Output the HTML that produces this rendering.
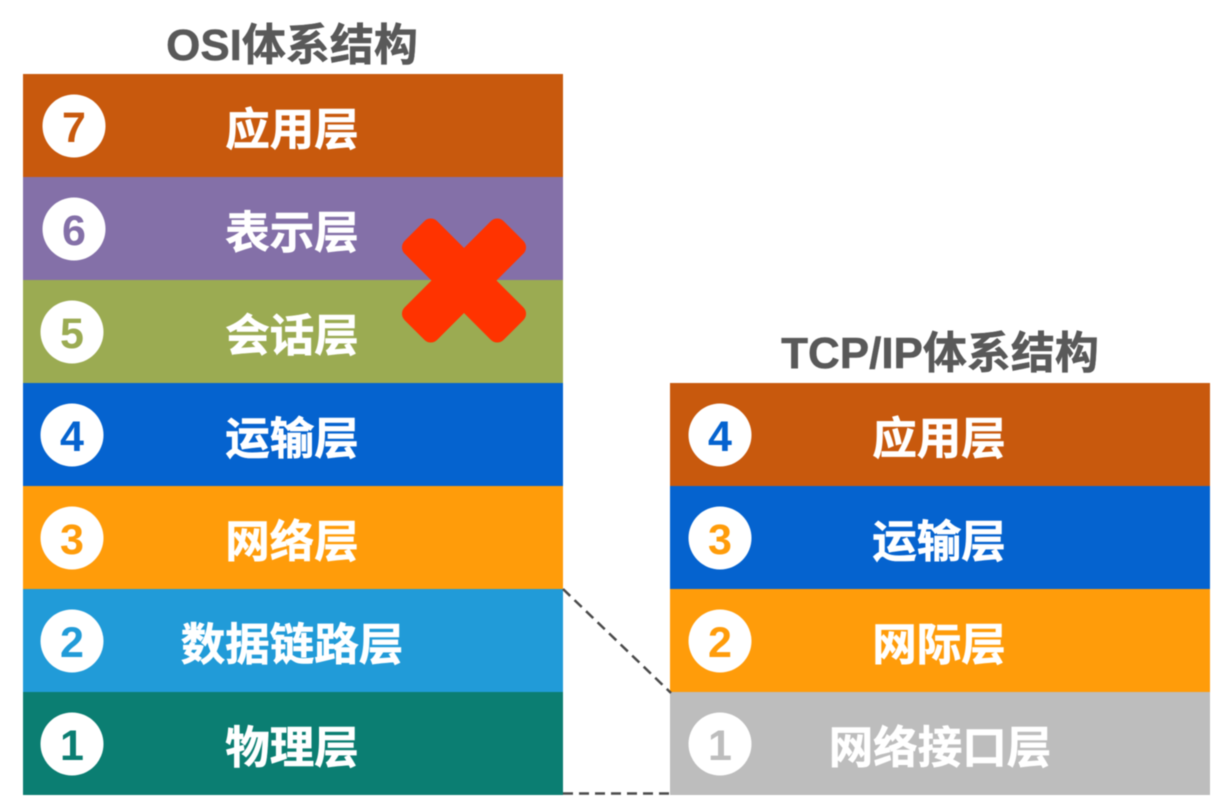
<!DOCTYPE html>
<html><head><meta charset="utf-8"><style>
html,body{margin:0;padding:0;background:#fff;width:1220px;height:805px;overflow:hidden}
svg{display:block;filter:blur(0.5px)}
text{font-family:"Liberation Sans","Noto Sans CJK SC",sans-serif;font-weight:700}
.l{font-size:44.5px;fill:#fff;stroke:#fff;stroke-width:.6px;text-anchor:middle}
.n{font-size:43px;text-anchor:middle}
.t{font-size:44px;fill:#595959;stroke:#595959;stroke-width:.5px;text-anchor:middle}
</style></head><body>
<svg width="1220" height="805" viewBox="0 0 1220 805" xmlns="http://www.w3.org/2000/svg">
<text class="t" x="292" y="60">OSI体系结构</text>
<text class="t" x="940" y="368">TCP/IP体系结构</text>
<rect x="23" y="74" width="540" height="104" fill="#c8590d"/>
<rect x="23" y="177" width="540" height="104" fill="#8470a8"/>
<rect x="23" y="280" width="540" height="104" fill="#9bab52"/>
<rect x="23" y="383" width="540" height="104" fill="#0563cf"/>
<rect x="23" y="486" width="540" height="104" fill="#ff9c0a"/>
<rect x="23" y="589" width="540" height="104" fill="#219bd8"/>
<rect x="23" y="692" width="540" height="103" fill="#0b7e72"/>
<rect x="670" y="383" width="540" height="104" fill="#c8590d"/>
<rect x="670" y="486" width="540" height="104" fill="#0563cf"/>
<rect x="670" y="589" width="540" height="104" fill="#ff9c0a"/>
<rect x="670" y="692" width="540" height="103" fill="#bdbdbd"/>
<circle cx="74" cy="126" r="31.5" fill="#fff"/><text class="n" x="74" y="142" fill="#c8590d">7</text>
<circle cx="74" cy="229" r="31.5" fill="#fff"/><text class="n" x="74" y="245" fill="#8470a8">6</text>
<circle cx="72" cy="332" r="31.5" fill="#fff"/><text class="n" x="72" y="348" fill="#9bab52">5</text>
<circle cx="72" cy="435" r="31.5" fill="#fff"/><text class="n" x="72" y="451" fill="#0563cf">4</text>
<circle cx="72" cy="538" r="31.5" fill="#fff"/><text class="n" x="72" y="554" fill="#ff9c0a">3</text>
<circle cx="72" cy="641" r="31.5" fill="#fff"/><text class="n" x="72" y="657" fill="#219bd8">2</text>
<circle cx="72" cy="744" r="31.5" fill="#fff"/><text class="n" x="72" y="760" fill="#0b7e72">1</text>
<circle cx="720" cy="435" r="31.5" fill="#fff"/><text class="n" x="720" y="451" fill="#0563cf">4</text>
<circle cx="720" cy="538" r="31.5" fill="#fff"/><text class="n" x="720" y="554" fill="#ff9c0a">3</text>
<circle cx="720" cy="641" r="31.5" fill="#fff"/><text class="n" x="720" y="657" fill="#ff9c0a">2</text>
<circle cx="720" cy="744" r="31.5" fill="#fff"/><text class="n" x="720" y="760" fill="#bdbdbd">1</text>
<text class="l" x="292" y="145">应用层</text>
<text class="l" x="292" y="248">表示层</text>
<text class="l" x="292" y="351">会话层</text>
<text class="l" x="292" y="454">运输层</text>
<text class="l" x="292" y="557">网络层</text>
<text class="l" x="292" y="660">数据链路层</text>
<text class="l" x="292" y="763">物理层</text>
<text class="l" x="939" y="454">应用层</text>
<text class="l" x="939" y="557">运输层</text>
<text class="l" x="939" y="660">网际层</text>
<text class="l" x="940" y="763">网络接口层</text>
<g fill="#ff3300" transform="rotate(45 464 280.5)">
<rect x="394" y="257.5" width="140" height="46" rx="9"/>
<rect x="441" y="210.5" width="46" height="140" rx="9"/>
</g>
<line x1="563" y1="589" x2="671" y2="693" stroke="#4a4a4a" stroke-width="2.5" stroke-dasharray="10 6"/>
<line x1="563" y1="793.5" x2="671" y2="793.5" stroke="#4a4a4a" stroke-width="2.5" stroke-dasharray="10 6"/>
</svg>
</body></html>
